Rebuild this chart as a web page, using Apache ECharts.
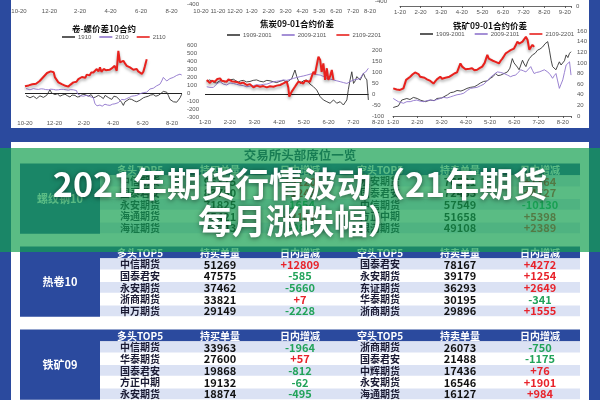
<!DOCTYPE html>
<html><head><meta charset="utf-8">
<script src="https://cdn.jsdelivr.net/npm/echarts@6/dist/echarts.min.js"></script>
<style>html,body{margin:0;padding:0;background:#2b4a9e}#c{width:600px;height:400px}</style>
</head><body><div id="c"></div>
<script>
// ---------- chart data (x = months since first tick, y = spread) ----------
const c1Ticks = ['10-20','12-20','2-20','4-20','6-20','8-20'];
const c2Ticks = ['1-20','2-20','3-20','4-20','5-20','6-20','7-20','8-20'];
const c3Ticks = ['1-20','2-20','3-20','4-20','5-20','6-20','7-20','8-20'];
const g2Ticks = ['10-20','11-20','12-20','1-20','2-20','3-20','4-20','5-20','6-20','7-20','8-20'];
const g3Ticks = ['1-20','2-20','3-20','4-20','5-20','6-20','7-20','8-20','9-20'];
const c1Names = ['1910','2010','2110'];
const c2Names = ['1909-2001','2009-2101','2109-2201'];
const c3Names = ['1909-2001','2009-2101','2109-2201'];
const c1Titles = ['卷-螺价差10合约','焦炭09-01合约价差','铁矿09-01合约价差'];

const c1_1910 = [[0.07,-33],[0.2,-50],[0.34,-60],[0.45,-35],[0.57,-40],[0.68,-65],[0.79,-70],[0.9,-45],[1.02,-35],[1.13,-60],[1.25,-55],[1.36,-40],[1.47,-30],[1.6,-10],[1.7,40],[1.81,0],[1.92,10],[2.04,-20],[2.2,-10],[2.38,-40],[2.55,-25],[2.72,-15],[2.9,-35],[3.06,-50],[3.2,-25],[3.4,-30],[3.55,-50],[3.74,-45],[3.9,-15],[4.08,-20],[4.2,-45],[4.31,-40],[4.5,-20],[4.65,-60],[4.8,-50],[4.99,-30],[5.15,-45],[5.33,-70],[5.45,-30],[5.56,-40],[5.7,-60],[5.9,-80],[6.05,-40],[6.24,-50],[6.35,-70],[6.46,-90],[6.58,-120],[6.69,-155],[6.8,-110],[6.92,-100],[7.1,-75],[7.26,-80],[7.45,-100],[7.6,-110],[7.82,-90],[7.95,-70],[8.05,-60],[8.2,-50],[8.39,-40],[8.55,-25],[8.73,-20],[8.9,-40],[9.07,-30],[9.25,-5],[9.41,20],[9.52,0],[9.64,10],[9.75,-30],[9.86,-80],[9.98,-100],[10.1,-110],[10.2,-90],[10.32,-115],[10.43,-100],[10.55,-60],[10.66,-15]];
const c1_2010 = [[0.07,55],[0.2,45],[0.34,40],[0.45,50],[0.57,55],[0.75,48],[0.91,45],[1.1,52],[1.25,50],[1.4,43],[1.59,40],[1.75,48],[1.93,45],[2.1,38],[2.27,40],[2.45,46],[2.61,45],[2.8,40],[2.95,35],[3.1,42],[3.29,40],[3.4,35],[3.51,30],[3.57,-10],[3.63,-30],[3.8,-35],[3.97,-40],[4.15,-30],[4.31,-35],[4.5,-50],[4.65,-60],[4.76,-135],[4.9,-160],[5.1,-150],[5.25,-165],[5.44,-140],[5.6,-150],[5.78,-155],[5.95,-140],[6.12,-135],[6.35,-120],[6.46,-95],[6.58,-80],[6.75,-85],[6.92,-70],[7.1,-55],[7.26,-40],[7.45,-35],[7.6,-30],[7.82,-10],[8.05,5],[8.28,10],[8.4,35],[8.5,50],[8.62,45],[8.73,60],[8.85,80],[8.96,90],[9.07,100],[9.18,110],[9.3,150],[9.41,195],[9.52,170],[9.64,150],[9.75,165],[9.86,180],[9.98,185],[10.09,195],[10.2,205],[10.32,220],[10.43,225],[10.54,235],[10.66,225]];
const c1_2110 = [[0,85],[0.12,100],[0.25,95],[0.37,120],[0.5,110],[0.62,125],[0.75,115],[0.87,140],[1.0,150],[1.12,175],[1.25,200],[1.37,215],[1.5,250],[1.62,230],[1.75,270],[1.87,245],[1.95,260],[2.04,195],[2.12,200],[2.27,133],[2.37,150],[2.5,110],[2.62,120],[2.75,90],[2.87,105],[2.95,80],[3.1,105],[3.29,133],[3.4,150],[3.5,140],[3.63,174],[3.75,160],[3.87,200],[3.97,207],[4.1,190],[4.2,230],[4.3,237],[4.4,220],[4.5,255],[4.65,257],[4.75,240],[4.88,299],[5.0,270],[5.1,320],[5.2,265],[5.35,300],[5.5,285],[5.62,310],[5.75,290],[5.9,307],[6.0,300],[6.1,340],[6.24,278],[6.35,527],[6.46,382],[6.55,360],[6.69,402],[6.8,370],[6.92,340],[7.05,350],[7.14,320],[7.25,310],[7.37,290],[7.5,305],[7.6,299],[7.7,270],[7.82,249],[7.95,240],[8.05,266],[8.15,330],[8.28,423]];

const c2_1909 = [[0.07,56],[0.17,64],[0.27,60],[0.37,52],[0.47,50],[0.57,58],[0.67,62],[0.78,55],[0.88,58],[1.0,64],[1.15,67],[1.25,60],[1.35,55],[1.45,60],[1.55,62],[1.68,55],[1.82,57],[1.95,62],[2.09,64],[2.22,58],[2.36,55],[2.5,62],[2.63,60],[2.76,56],[2.9,52],[3.04,58],[3.17,62],[3.27,56],[3.37,58],[3.51,70],[3.58,79],[3.64,109],[3.71,80],[3.78,60],[3.85,48],[3.98,60],[4.12,64],[4.25,45],[4.39,33],[4.52,18],[4.66,-12],[4.79,-27],[4.93,-35],[5.06,-42],[5.2,-27],[5.33,-42],[5.47,-35],[5.6,-50],[5.74,-27],[5.8,20],[5.87,64],[5.94,101],[6.01,48],[6.08,60],[6.14,79],[6.21,70],[6.28,64],[6.35,80],[6.41,94],[6.48,75],[6.55,64],[6.61,-27]];
const c2_2009 = [[0.07,33],[0.2,30],[0.34,30],[0.47,45],[0.61,56],[0.74,45],[0.88,41],[1.01,50],[1.15,48],[1.28,44],[1.42,40],[1.55,38],[1.69,33],[1.82,36],[1.96,38],[2.09,42],[2.23,41],[2.36,44],[2.5,45],[2.63,50],[2.77,56],[2.9,58],[3.04,60],[3.17,64],[3.31,62],[3.44,66],[3.58,71],[3.71,75],[3.85,79],[3.98,82],[4.12,86],[4.25,90],[4.39,94],[4.52,88],[4.66,86],[4.79,80],[4.93,71],[5.06,68],[5.2,64],[5.33,60],[5.47,56],[5.6,52],[5.74,48],[5.87,56],[6.01,64],[6.14,66],[6.28,71],[6.41,94],[6.5,100],[6.61,117]];
const c2_2109 = [[0.07,64],[0.13,55],[0.2,50],[0.27,60],[0.4,56],[0.5,68],[0.61,71],[0.68,60],[0.74,55],[0.88,56],[0.95,66],[1.01,62],[1.08,58],[1.15,64],[1.28,55],[1.35,60],[1.42,48],[1.55,52],[1.62,44],[1.69,41],[1.82,45],[1.9,36],[1.96,30],[2.09,38],[2.16,32],[2.23,33],[2.36,36],[2.43,30],[2.5,30],[2.63,35],[2.7,30],[2.77,33],[2.9,38],[2.97,35],[3.04,41],[3.17,48],[3.31,56],[3.37,30],[3.41,-12],[3.46,0],[3.51,11],[3.58,20],[3.64,33],[3.71,45],[3.78,56],[3.88,52],[3.98,48],[4.05,60],[4.12,64],[4.25,56],[4.32,80],[4.39,101],[4.45,90],[4.52,94],[4.59,170],[4.66,155],[4.72,101],[4.79,139],[4.86,64],[4.93,117],[4.99,64],[5.06,80],[5.13,109],[5.2,64]];

const c3_1909 = [[0.01,16],[0.22,19],[0.36,30],[0.57,33],[0.7,31],[0.84,35],[1.0,33],[1.12,30],[1.33,27],[1.54,30],[1.7,29],[1.81,33],[2.0,34],[2.09,36],[2.25,40],[2.37,44],[2.5,45],[2.64,48],[2.8,47],[2.92,49],[3.05,52],[3.2,54],[3.35,55],[3.47,58],[3.6,62],[3.73,65],[3.88,66],[4.02,71],[4.12,74],[4.23,80],[4.33,76],[4.44,77],[4.58,80],[4.72,83],[4.82,90],[4.92,108],[4.99,100],[5.06,99],[5.13,92],[5.2,87],[5.27,96],[5.34,105],[5.41,98],[5.48,93],[5.55,102],[5.62,108],[5.68,110],[5.75,115],[5.86,118],[5.96,124],[6.06,126],[6.17,130],[6.27,136],[6.38,140],[6.45,124],[6.52,105],[6.58,93],[6.65,90],[6.72,87],[6.79,95],[6.86,102],[6.93,96],[7.0,93],[7.07,104],[7.14,115],[7.21,110],[7.28,118],[7.34,121]];
const c3_2009 = [[0.01,33],[0.22,27],[0.43,24],[0.57,27],[0.71,27],[0.84,29],[0.98,30],[1.12,28],[1.26,27],[1.4,29],[1.54,30],[1.68,29],[1.81,31],[1.95,33],[2.09,35],[2.23,34],[2.37,36],[2.5,38],[2.64,40],[2.78,41],[2.92,43],[3.06,48],[3.2,52],[3.33,53],[3.47,54],[3.61,57],[3.75,60],[3.88,66],[4.02,73],[4.16,78],[4.3,83],[4.44,82],[4.58,80],[4.72,77],[4.85,74],[4.95,76],[5.06,77],[5.16,82],[5.27,87],[5.38,85],[5.48,83],[5.58,88],[5.68,93],[5.75,86],[5.82,80],[5.92,82],[6.03,83],[6.14,85],[6.24,87],[6.31,85],[6.38,83],[6.48,78],[6.58,71],[6.65,76],[6.72,80],[6.79,66],[6.86,52],[6.93,60],[7.0,68],[7.07,82],[7.14,96],[7.21,99],[7.28,102],[7.34,77]];
const c3_2109 = [[0.01,52],[0.15,50],[0.29,49],[0.43,52],[0.54,68],[0.62,70],[0.71,74],[0.8,78],[0.91,82],[1.05,79],[1.12,74],[1.19,71],[1.3,72],[1.4,69],[1.47,70],[1.54,66],[1.6,64],[1.67,61],[1.74,65],[1.81,69],[1.88,71],[1.95,74],[2.02,70],[2.09,68],[2.16,72],[2.23,71],[2.33,74],[2.43,77],[2.53,80],[2.64,82],[2.71,85],[2.78,99],[2.85,93],[2.92,90],[2.99,88],[3.06,87],[3.16,89],[3.26,90],[3.36,86],[3.47,87],[3.57,90],[3.68,93],[3.78,100],[3.89,115],[3.95,108],[4.02,105],[4.12,104],[4.23,102],[4.3,100],[4.37,99],[4.44,104],[4.51,108],[4.58,113],[4.65,118],[4.75,121],[4.85,124],[4.92,126],[4.99,127],[5.06,133],[5.13,140],[5.2,136],[5.27,137],[5.34,140],[5.41,143],[5.48,149],[5.55,143],[5.62,125],[5.68,124],[5.75,134],[5.82,130]];

// ---------- table data ----------
const tableTitle = '交易所头部席位一览';
const headers = ['多头TOP5','持买单量','日内增减','空头TOP5','持卖单量','日内增减'];
const sections = ['螺纹钢10','热卷10','铁矿09'];
const longNames = [
  ['中信期货','国泰君安','永安期货','海通期货','海证期货'],
  ['中信期货','国泰君安','永安期货','浙商期货','申万期货'],
  ['中信期货','华泰期货','国泰君安','方正中期','永安期货']];
const longQty = [
  ['96375','83780','71825','55421','52043'],
  ['51269','47575','37462','33821','29149'],
  ['33963','27600','19868','19132','18874']];
const longChg = [
  ['+3220','+1243','-1654','+2107','-986'],
  ['+12809','-585','-5660','+7','-2228'],
  ['-1964','+57','-812','-62','-495']];
const shortNames = [
  ['永安期货','国泰君安','中信期货','方正中期','银河期货'],
  ['国泰君安','永安期货','东证期货','华泰期货','浙商期货'],
  ['浙商期货','国泰君安','中辉期货','永安期货','海通期货']];
const shortQty = [
  ['76521','72433','57549','51658','49108'],
  ['78167','39179','36293','30195','29896'],
  ['26073','21488','17436','16546','16127']];
const shortChg = [
  ['+1364','+4727','-10130','+5398','+2389'],
  ['+4272','+1254','+2649','-341','+1555'],
  ['-750','-1175','+76','+1901','+984']];
const bigTitle = ['2021年期货行情波动（21年期货','每月涨跌幅）'];

// ---------- build ----------
const BLUE = '#2b4a9e', BLK = '#333333', PUR = '#8f74cc', RED = '#e8211d';
const lbl = {fontSize:6, color:'#555', fontFamily:'Liberation Sans'};
function ln(name, data, color, w, gi, extra){
  const s = {type:'line', name, data, xAxisIndex:gi, yAxisIndex:gi, showSymbol:false, symbol:'none', z:5,
    lineStyle:{color, width:w}, itemStyle:{color}, animation:false};
  if (w > 1.5) Object.assign(s.lineStyle, {shadowColor:'rgba(0,0,0,0.35)', shadowBlur:3, shadowOffsetY:2});
  return Object.assign(s, extra || {});
}
const zeroMark = (data) => ({silent:true, symbol:'none', label:{show:false}, lineStyle:{color:'#222', width:1, type:'solid'}, data});

const grids = [
  {left:25, top:45, width:157, height:72},
  {left:205, top:50, width:173, height:66},
  {left:393, top:31, width:178, height:85},
  {left:19, top:-80, width:163, height:84},
  {left:201, top:-80, width:169, height:81},
  {left:400, top:-80, width:171, height:86}
].map(g => Object.assign(g, {containLabel:false, outerBoundsMode:'none'}));

function xa(gi, max, interval, ticks, opts){
  return Object.assign({gridIndex:gi, type:'value', min:0, max, interval,
    axisLine:{show:false}, axisTick:{show:false}, splitLine:{show:false},
    axisLabel:Object.assign({}, lbl, {margin:3, formatter:v => {const i = Math.round(v/interval); return Math.abs(i*interval - v) < 1e-6 && ticks[i] ? ticks[i] : '';}})}, opts||{});
}
function ya(gi, min, max, interval, opts){
  return Object.assign({gridIndex:gi, type:'value', position:'right', min, max, interval,
    axisLine:{show:false}, axisTick:{show:false}, splitLine:{show:false},
    axisLabel:Object.assign({}, lbl, {margin:5})}, opts||{});
}
const axLine = {show:true, onZero:false, lineStyle:{color:'#444', width:0.8}};
const xAxes = [
  xa(0, 10.68, 2, c1Ticks, {axisLabel:Object.assign({}, lbl, {margin:3, formatter:v=>c1Ticks[v/2]||''})}),
  xa(1, 7, 1, c2Ticks),
  xa(2, 7.34, 1, c3Ticks, {axisLine:axLine, axisTick:{show:true, length:2, lineStyle:{color:'#444', width:0.8}}}),
  xa(3, 10.68, 2, c1Ticks, {axisLabel:Object.assign({}, lbl, {margin:4, formatter:v=>c1Ticks[v/2]||''})}),
  xa(4, 10, 1, g2Ticks, {axisLabel:Object.assign({}, lbl, {margin:7, formatter:v=>g2Ticks[v]||''})}),
  xa(5, 8.3, 1, g3Ticks, {axisLine:axLine, axisTick:{show:true, length:2, lineStyle:{color:'#444', width:0.8}}})
];
const yAxes = [
  ya(0, -300, 600, 100),
  ya(1, -100, 200, 50, {offset:-8, axisLabel:Object.assign({}, lbl, {margin:2})}),
  ya(2, 0, 160, 20, {axisLabel:Object.assign({}, lbl, {margin:6})}),
  ya(3, -400, 600, 100),
  ya(4, -400, 600, 100),
  ya(5, 0, 160, 20, {axisLabel:Object.assign({}, lbl, {margin:5})})
];

const series = [
  ln(c1Names[0], c1_1910, BLK, 0.9, 0, {markLine:zeroMark([{yAxis:0}])}),
  ln(c1Names[1], c1_2010, PUR, 0.9, 0),
  ln(c1Names[2], c1_2110, RED, 2, 0),
  ln(c2Names[0], c2_1909, BLK, 0.9, 1, {markLine:zeroMark([[{coord:[0,0]},{coord:[6.62,0]}]])}),
  ln(c2Names[1], c2_2009, PUR, 0.9, 1),
  ln(c2Names[2], c2_2109, RED, 2, 1),
  ln(c3Names[0], c3_1909, BLK, 0.9, 2),
  ln(c3Names[1], c3_2009, PUR, 0.9, 2),
  ln(c3Names[2], c3_2109, RED, 2, 2)
];

const titleFont = {fontSize:8.5, fontWeight:'bold', color:'#111', fontFamily:'Noto Sans CJK SC'};
const titles = [
  {text:c1Titles[0], left:99, top:20, textAlign:'center', textStyle:titleFont},
  {text:c1Titles[1], left:292, top:15, textAlign:'center', textStyle:titleFont},
  {text:c1Titles[2], left:485, top:17, textAlign:'center', textStyle:titleFont}
];
const legBase = {icon:'rect', itemWidth:13, itemHeight:1.6, selectedMode:false,
  textStyle:{fontSize:6, color:'#555', padding:[0,0,0,-2]}, padding:0};
const legends = [
  Object.assign({}, legBase, {data:c1Names, left:62, top:34, itemGap:8}),
  Object.assign({}, legBase, {data:c2Names, left:227, top:32, itemGap:10}),
  Object.assign({}, legBase, {data:c3Names, left:420, top:31, itemGap:10})
];

// graphic: panels, table, overlay
const G = [];
G.push({type:'rect', z:0, shape:{x:11, y:0, width:578, height:128}, style:{fill:'#fff'}});
G.push({type:'rect', z:0, shape:{x:11, y:142, width:578, height:258}, style:{fill:'#fff'}});
const tf = (size, w) => `${w||'bold'} ${size}px "Noto Sans CJK SC"`;
function txt(x, y, text, fill, font, z){
  return {type:'text', z:z||3, x, y, style:{text, fill, font, textAlign:'center', textVerticalAlign:'middle', align:'center', verticalAlign:'middle'}};
}
G.push(txt(300, 155, tableTitle, '#1e2c5c', tf(12.5)));
const secTop = [163.5, 246.5, 329.5], rowH = 11.7;
const colX = [140, 220, 300, 380, 460, 540];
const chgColor = s => s.charAt(0) === '-' ? '#22a35a' : '#e8222a';
sections.forEach((name, s) => {
  const y0 = secTop[s];
  G.push({type:'rect', z:1, shape:{x:20, y:y0, width:80, height:rowH*6}, style:{fill:BLUE}});
  G.push(txt(60, y0 + rowH*3, name, '#fff', tf(11)));
  G.push({type:'rect', z:1, shape:{x:100, y:y0, width:480, height:rowH}, style:{fill:BLUE}});
  headers.forEach((h, c) => G.push(txt(colX[c], y0 + rowH/2 + 0.5, h, '#fff', tf(10))));
  for (let r = 0; r < 5; r++) {
    const ry = y0 + rowH*(r+1);
    G.push({type:'rect', z:1, shape:{x:100, y:ry + 0.5, width:480, height:rowH - 1}, style:{fill: r % 2 === 0 ? '#dbe2f4' : '#ffffff'}});
    const cy = ry + rowH/2 + 0.3;
    G.push(txt(colX[0], cy, longNames[s][r], '#1a1a33', tf(10)));
    G.push(txt(colX[1], cy, longQty[s][r], '#111', tf(11)));
    G.push(txt(colX[2], cy, longChg[s][r], chgColor(longChg[s][r]), tf(11)));
    G.push(txt(colX[3], cy, shortNames[s][r], '#1a1a33', tf(10)));
    G.push(txt(colX[4], cy, shortQty[s][r], '#111', tf(11)));
    G.push(txt(colX[5], cy, shortChg[s][r], chgColor(shortChg[s][r]), tf(11)));
  }
});
G.push({type:'rect', z:100, shape:{x:0, y:148, width:600, height:104}, style:{fill:'rgba(20,160,80,0.7)'}});
bigTitle.forEach((t, i) => {
  G.push({type:'text', z:101, x:300, y:184 + i*37, style:{text:t, fill:'#fff', font:'bold 34px "Noto Sans CJK SC"',
    textAlign:'center', textVerticalAlign:'middle', align:'center', verticalAlign:'middle',
    textShadowColor:'rgba(0,0,0,0.55)', textShadowBlur:5, textShadowOffsetY:1}});
});

const chart = echarts.init(document.getElementById('c'), null, {renderer:'canvas'});
chart.setOption({
  backgroundColor: BLUE,
  animation:false,
  title: titles,
  legend: legends,
  grid: grids,
  xAxis: xAxes,
  yAxis: yAxes,
  series,
  graphic: {elements: G}
});
</script></body></html>
